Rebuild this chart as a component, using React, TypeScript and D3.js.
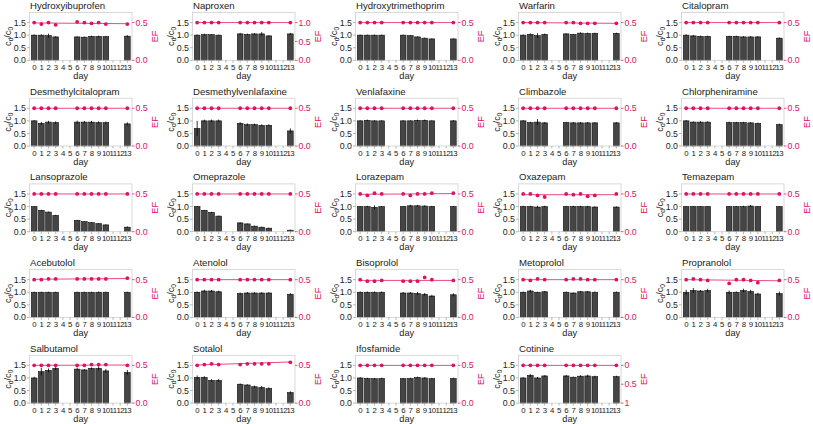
import React from "react";
import * as d3 from "d3";

const DAYS = [0, 1, 2, 3, 6, 7, 8, 9, 10, 13];
const TICK_DAYS = d3.range(14);
const Y_TICKS = [0, 0.5, 1.0, 1.5];

const NAMES = [
  "Hydroxyibuprofen", "Naproxen", "Hydroxytrimethoprim", "Warfarin", "Citalopram",
  "Desmethylcitalopram", "Desmethylvenlafaxine", "Venlafaxine", "Climbazole", "Chlorpheniramine",
  "Lansoprazole", "Omeprazole", "Lorazepam", "Oxazepam", "Temazepam",
  "Acebutolol", "Atenolol", "Bisoprolol", "Metoprolol", "Propranolol",
  "Salbutamol", "Sotalol", "Ifosfamide", "Cotinine",
];

const RATIO = [
  [1.0, 1.0, 0.98, 0.93, 0.93, 0.92, 0.95, 0.95, 0.94, 0.96],
  [1.0, 1.02, 1.02, 1.0, 1.05, 1.03, 1.05, 1.05, 0.97, 1.05],
  [1.0, 1.0, 1.0, 1.0, 1.0, 0.98, 0.93, 0.88, 0.85, 0.85],
  [1.0, 1.03, 0.98, 1.03, 1.05, 1.03, 1.08, 1.07, 1.07, 1.07],
  [1.0, 0.97, 0.95, 0.95, 0.95, 0.95, 0.93, 0.93, 0.93, 0.88],
  [1.0, 0.9, 0.95, 0.93, 0.95, 0.95, 0.95, 0.93, 0.93, 0.88],
  [0.7, 1.0, 1.0, 1.0, 0.9, 0.85, 0.85, 0.82, 0.82, 0.6],
  [1.0, 1.02, 1.0, 1.0, 1.0, 1.0, 1.02, 1.02, 1.0, 1.0],
  [1.0, 0.93, 0.95, 0.92, 0.93, 0.92, 0.92, 0.92, 0.92, 0.92],
  [1.0, 0.95, 0.95, 0.95, 0.93, 0.93, 0.93, 0.92, 0.9, 0.85],
  [1.0, 0.85, 0.78, 0.65, 0.45, 0.4, 0.36, 0.32, 0.27, 0.18],
  [1.0, 0.85, 0.77, 0.62, 0.35, 0.31, 0.22, 0.18, 0.14, 0.06],
  [1.0, 1.0, 0.97, 1.0, 1.0, 1.03, 1.03, 1.02, 1.0, 1.0],
  [1.0, 1.0, 0.98, 1.0, 1.0, 1.0, 1.0, 1.0, 0.98, 0.98],
  [1.0, 1.0, 1.0, 1.0, 1.0, 1.0, 1.0, 1.02, 1.0, 1.0],
  [1.0, 1.0, 1.0, 1.0, 1.0, 1.0, 1.0, 1.0, 1.0, 1.0],
  [1.0, 1.05, 1.05, 1.02, 0.95, 0.97, 0.97, 0.97, 0.97, 0.92],
  [1.0, 1.0, 1.0, 1.0, 0.97, 0.97, 0.95, 0.92, 0.85, 0.9],
  [1.0, 1.05, 1.0, 1.02, 1.0, 0.97, 1.02, 1.02, 1.0, 1.0],
  [1.0, 1.07, 1.05, 1.07, 1.0, 1.0, 1.07, 1.03, 0.93, 0.95],
  [1.0, 1.25, 1.3, 1.38, 1.35, 1.32, 1.38, 1.38, 1.28, 1.22],
  [1.02, 1.02, 0.9, 0.9, 0.75, 0.72, 0.65, 0.62, 0.58, 0.42],
  [1.0, 0.98, 0.97, 0.98, 0.97, 0.98, 1.02, 1.0, 0.97, 0.98],
  [1.0, 1.1, 1.0, 1.08, 1.08, 1.03, 1.07, 1.08, 1.05, 1.05],
];

const ERR = [
  [0.03, 0.03, 0.08, 0.03, 0.02, 0.02, 0.03, 0.03, 0.03, 0.04],
  [0.03, 0.04, 0.02, 0.02, 0.04, 0.03, 0.03, 0.07, 0.03, 0.04],
  [0.02, 0.02, 0.02, 0.02, 0.02, 0.02, 0.02, 0.02, 0.02, 0.02],
  [0.03, 0.04, 0.1, 0.03, 0.03, 0.02, 0.03, 0.03, 0.03, 0.03],
  [0.03, 0.04, 0.03, 0.03, 0.03, 0.03, 0.03, 0.03, 0.03, 0.03],
  [0.03, 0.06, 0.05, 0.05, 0.06, 0.05, 0.05, 0.05, 0.04, 0.06],
  [0.3, 0.05, 0.05, 0.05, 0.05, 0.05, 0.04, 0.04, 0.04, 0.1],
  [0.02, 0.03, 0.02, 0.02, 0.02, 0.02, 0.03, 0.03, 0.02, 0.03],
  [0.03, 0.03, 0.12, 0.03, 0.03, 0.03, 0.03, 0.03, 0.03, 0.03],
  [0.03, 0.03, 0.03, 0.03, 0.04, 0.03, 0.03, 0.03, 0.03, 0.04],
  [0.02, 0.02, 0.02, 0.02, 0.02, 0.02, 0.02, 0.02, 0.02, 0.03],
  [0.02, 0.02, 0.02, 0.02, 0.03, 0.02, 0.02, 0.02, 0.02, 0.02],
  [0.02, 0.03, 0.08, 0.02, 0.02, 0.04, 0.03, 0.03, 0.03, 0.02],
  [0.03, 0.03, 0.05, 0.03, 0.03, 0.03, 0.03, 0.03, 0.03, 0.03],
  [0.02, 0.02, 0.02, 0.02, 0.02, 0.02, 0.03, 0.04, 0.02, 0.02],
  [0.02, 0.02, 0.02, 0.02, 0.02, 0.02, 0.02, 0.03, 0.02, 0.02],
  [0.03, 0.05, 0.04, 0.04, 0.04, 0.04, 0.03, 0.03, 0.03, 0.04],
  [0.03, 0.03, 0.03, 0.03, 0.04, 0.04, 0.06, 0.05, 0.05, 0.06],
  [0.03, 0.05, 0.02, 0.03, 0.03, 0.02, 0.03, 0.03, 0.03, 0.03],
  [0.1, 0.1, 0.04, 0.07, 0.07, 0.03, 0.07, 0.07, 0.05, 0.08],
  [0.05, 0.15, 0.08, 0.06, 0.06, 0.03, 0.04, 0.08, 0.08, 0.1],
  [0.08, 0.05, 0.05, 0.06, 0.03, 0.03, 0.04, 0.06, 0.05, 0.05],
  [0.03, 0.03, 0.03, 0.03, 0.03, 0.03, 0.03, 0.03, 0.03, 0.03],
  [0.03, 0.06, 0.04, 0.03, 0.04, 0.02, 0.04, 0.05, 0.04, 0.04],
];

const EF = [
  [0.5, 0.48, 0.5, 0.47, 0.51, 0.5, 0.49, 0.5, 0.48, 0.48],
  [1.0, 1.0, 1.0, 1.0, 1.0, 1.0, 1.0, 1.0, 1.0, 1.0],
  [0.5, 0.5, 0.5, 0.5, 0.5, 0.5, 0.5, 0.5, 0.5, 0.5],
  [0.5, 0.5, 0.5, 0.5, 0.5, 0.5, 0.49, 0.49, 0.49, 0.49],
  [0.5, 0.5, 0.5, 0.5, 0.5, 0.5, 0.5, 0.5, 0.5, 0.5],
  [0.5, 0.5, 0.5, 0.5, 0.5, 0.5, 0.5, 0.5, 0.5, 0.5],
  [0.5, 0.5, 0.5, 0.5, 0.5, 0.5, 0.5, 0.5, 0.5, 0.5],
  [0.5, 0.5, 0.5, 0.5, 0.5, 0.5, 0.5, 0.5, 0.5, 0.5],
  [0.5, 0.5, 0.5, 0.5, 0.5, 0.5, 0.5, 0.5, 0.5, 0.5],
  [0.5, 0.5, 0.5, 0.5, 0.5, 0.5, 0.5, 0.5, 0.5, 0.5],
  [0.5, 0.5, 0.5, 0.5, 0.5, 0.5, 0.5, 0.5, 0.5, 0.5],
  [0.5, 0.5, 0.5, 0.5, 0.5, 0.5, 0.5, 0.5, 0.5, 0.5],
  [0.5, 0.48, 0.51, 0.5, 0.5, 0.48, 0.5, 0.5, 0.51, 0.51],
  [0.5, 0.5, 0.48, 0.46, 0.5, 0.49, 0.5, 0.47, 0.48, 0.5],
  [0.5, 0.5, 0.5, 0.5, 0.5, 0.5, 0.5, 0.5, 0.5, 0.5],
  [0.5, 0.5, 0.51, 0.51, 0.51, 0.51, 0.51, 0.51, 0.51, 0.52],
  [0.5, 0.5, 0.5, 0.5, 0.5, 0.5, 0.5, 0.5, 0.5, 0.5],
  [0.5, 0.48, 0.48, 0.49, 0.48, 0.48, 0.48, 0.53, 0.5, 0.49],
  [0.5, 0.49, 0.51, 0.5, 0.5, 0.51, 0.51, 0.5, 0.5, 0.5],
  [0.5, 0.51, 0.5, 0.49, 0.45, 0.5, 0.5, 0.49, 0.46, 0.49],
  [0.5, 0.5, 0.5, 0.5, 0.5, 0.5, 0.51, 0.51, 0.51, 0.5],
  [0.5, 0.51, 0.52, 0.51, 0.51, 0.52, 0.52, 0.52, 0.52, 0.54],
  [0.5, 0.5, 0.5, 0.5, 0.5, 0.5, 0.5, 0.5, 0.5, 0.5],
  [0.0, 0.0, 0.0, 0.0, 0.0, 0.0, 0.0, 0.0, 0.0, 0.0],
];

// linear fit of EF: value at day 0 and day 13
const FIT = [
  [0.495, 0.485], [1.0, 1.0], [0.5, 0.5], [0.5, 0.49], [0.5, 0.5],
  [0.5, 0.5], [0.5, 0.5], [0.5, 0.5], [0.5, 0.5], [0.5, 0.5],
  [0.5, 0.5], [0.5, 0.5], [0.495, 0.505], [0.49, 0.49], [0.5, 0.5],
  [0.505, 0.515], [0.5, 0.5], [0.49, 0.49], [0.5, 0.5], [0.5, 0.485],
  [0.5, 0.505], [0.505, 0.545], [0.5, 0.5], [0.0, 0.0],
];

// EF axis: value at the bottom of the plot and value at the c/c0 = 1.5 level
const EF_BOTTOM = [0, 0, 0, 0, 0, 0, 0, 0, 0, 0, 0, 0, 0, 0, 0, 0, 0, 0, 0, 0, 0, 0, 0, 1];
const EF_AT15 = [0.5, 1, 0.5, 0.5, 0.5, 0.5, 0.5, 0.5, 0.5, 0.5, 0.5, 0.5, 0.5, 0.5, 0.5, 0.5, 0.5, 0.5, 0.5, 0.5, 0.5, 0.5, 0.5, 0];
const EF_TICKS = [
  [0, 0.5], [0, 0.5, 1.0], [0, 0.5], [0, 0.5], [0, 0.5],
  [0, 0.5], [0, 0.5], [0, 0.5], [0, 0.5], [0, 0.5],
  [0, 0.5], [0, 0.5], [0, 0.5], [0, 0.5], [0, 0.5],
  [0, 0.5], [0, 0.5], [0, 0.5], [0, 0.5], [0, 0.5],
  [0, 0.5], [0, 0.5], [0, 0.5], [0, 0.5, 1],
];
const EF_TICK_FMT = NAMES.map((_, i) => (i === 23 ? "~g" : ".1f"));

const W = 813;
const H = 424;
const COLS = 5;
const LEFT0 = 29.5;
const COL_PITCH = 163;
const TOP0 = 12.5;
const ROW_PITCH = 85.7;
const PW = 102.5;
const PH = 47.8;
const Y_MAX = 1.9;

const FONT = "'Liberation Sans', Arial, sans-serif";
const PINK = "#e0115f";
const PINK_LINE = "#ea4c80";
const TXT = "#222";
const AX = "#999";
const FS_TITLE = 9.6;
const FS_TICK = 8.8;
const FS_XTICK = 7.8;
const FS_LABEL = 9.2;

function Panel({ i }: { i: number }) {
  const col = i % COLS;
  const row = Math.floor(i / COLS);
  const left = LEFT0 + col * COL_PITCH;
  const top = TOP0 + row * ROW_PITCH;
  const right = left + PW;
  const bottom = top + PH;

  const x = d3.scaleLinear().domain([-0.65, 13.65]).range([left, right]);
  const y = d3.scaleLinear().domain([0, Y_MAX]).range([bottom, top]);
  const efTop = EF_BOTTOM[i] + (EF_AT15[i] - EF_BOTTOM[i]) * (Y_MAX / 1.5);
  const yEF = d3.scaleLinear().domain([EF_BOTTOM[i], efTop]).range([bottom, top]);
  const bw = (x(1) - x(0)) * 0.8;
  const fmtEF = d3.format(EF_TICK_FMT[i]);
  const fmtY = d3.format(".1f");

  const line = d3
    .line<[number, number]>()
    .x((d) => x(d[0]))
    .y((d) => yEF(d[1]));
  const fitPts: [number, number][] = [
    [0, FIT[i][0]],
    [13, FIT[i][1]],
  ];

  return (
    <g>
      <text x={left + 0.5} y={top - 3.5} fontSize={FS_TITLE} fill={TXT} fontFamily={FONT}>
        {NAMES[i]}
      </text>
      {DAYS.map((d, k) => (
        <rect
          key={"b" + k}
          x={x(d) - bw / 2}
          y={y(RATIO[i][k])}
          width={bw}
          height={bottom - y(RATIO[i][k])}
          fill="#454545"
          stroke="#111"
          strokeWidth={0.6}
        />
      ))}
      {DAYS.map((d, k) => (
        <line
          key={"e" + k}
          x1={x(d)}
          x2={x(d)}
          y1={y(RATIO[i][k] - ERR[i][k])}
          y2={y(RATIO[i][k] + ERR[i][k])}
          stroke="#000"
          strokeWidth={0.8}
        />
      ))}
      <path d={line(fitPts) || ""} fill="none" stroke={PINK_LINE} strokeWidth={1} />
      {DAYS.map((d, k) => (
        <circle key={"p" + k} cx={x(d)} cy={yEF(EF[i][k])} r={1.9} fill={PINK} />
      ))}
      <rect x={left} y={top} width={PW} height={PH} fill="none" stroke="#d0d0d0" strokeWidth={0.8} />
      {Y_TICKS.map((t) => (
        <g key={"yt" + t}>
          <line x1={left - 2.5} x2={left} y1={y(t)} y2={y(t)} stroke={AX} strokeWidth={0.7} />
          <text
            x={left - 3.5}
            y={y(t)}
            dy="0.35em"
            textAnchor="end"
            fontSize={FS_TICK}
            fill={TXT}
            fontFamily={FONT}
          >
            {fmtY(t)}
          </text>
        </g>
      ))}
      {EF_TICKS[i].map((t) => (
        <g key={"rt" + t}>
          <line x1={right} x2={right + 2.5} y1={yEF(t)} y2={yEF(t)} stroke={PINK} strokeWidth={0.7} />
          <text
            x={right + 3.5}
            y={yEF(t)}
            dy="0.35em"
            fontSize={FS_TICK}
            fill={PINK}
            fontFamily={FONT}
          >
            {fmtEF(t)}
          </text>
        </g>
      ))}
      {TICK_DAYS.map((d) => (
        <g key={"xt" + d}>
          <line x1={x(d)} x2={x(d)} y1={bottom} y2={bottom + 2.5} stroke={AX} strokeWidth={0.7} />
          <text
            x={x(d)}
            y={bottom + 9.6}
            textAnchor="middle"
            fontSize={FS_XTICK}
            fill={TXT}
            fontFamily={FONT}
            letterSpacing={-0.6}
          >
            {d}
          </text>
        </g>
      ))}
      <text
        x={(left + right) / 2}
        y={bottom + 18.5}
        textAnchor="middle"
        fontSize={FS_LABEL}
        fill={TXT}
        fontFamily={FONT}
      >
        day
      </text>
      <text
        transform={`translate(${left - 19},${(top + bottom) / 2}) rotate(-90)`}
        textAnchor="middle"
        fontSize={FS_LABEL}
        fill={TXT}
        fontFamily={FONT}
      >
        c
        <tspan fontSize={6.6} dy={2}>d</tspan>
        <tspan dy={-2}>/c</tspan>
        <tspan fontSize={6.6} dy={2}>0</tspan>
      </text>
      <text
        transform={`translate(${right + 23},${(top + bottom) / 2}) rotate(-90)`}
        textAnchor="middle"
        dy="0.35em"
        fontSize={FS_LABEL}
        fill={PINK}
        fontFamily={FONT}
      >
        EF
      </text>
    </g>
  );
}

export default function App() {
  return (
    <svg
      width={W}
      height={H}
      style={{ position: "absolute", left: 0, top: 0, background: "#fff" }}
    >
      <rect width={W} height={H} fill="#fff" />
      {NAMES.map((_, i) => (
        <Panel key={i} i={i} />
      ))}
    </svg>
  );
}
